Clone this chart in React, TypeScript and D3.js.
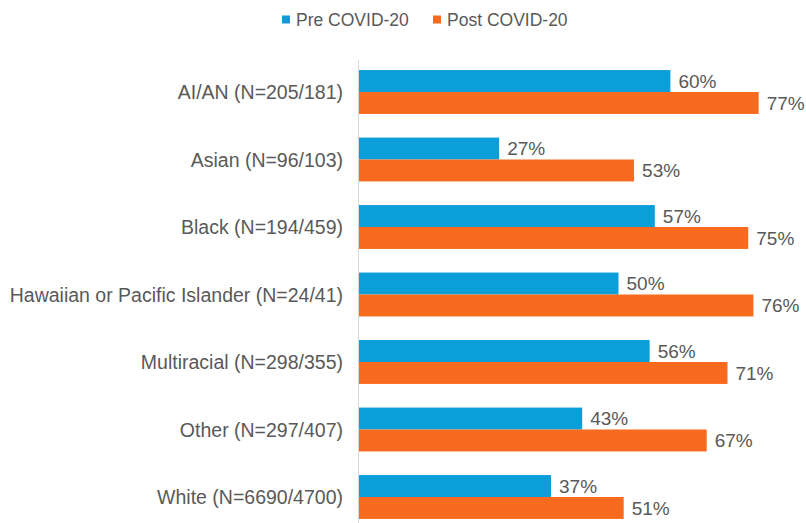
import React, { useRef, useEffect } from "react";
import * as d3 from "d3";

const categories = [
  "AI/AN (N=205/181)",
  "Asian (N=96/103)",
  "Black (N=194/459)",
  "Hawaiian or Pacific Islander (N=24/41)",
  "Multiracial (N=298/355)",
  "Other (N=297/407)",
  "White (N=6690/4700)",
];
const preValues = [60, 27, 57, 50, 56, 43, 37];
const postValues = [77, 53, 75, 76, 71, 67, 51];
const seriesNames = ["Pre COVID-20", "Post COVID-20"];
const seriesColors = ["#0B9ED8", "#F86B1E"];

const W = 806;
const H = 523;

const App = () => {
  const ref = useRef<SVGSVGElement | null>(null);

  useEffect(() => {
    if (!ref.current) return;
    const svg = d3.select(ref.current);
    svg.selectAll("*").remove();

    const font = "'Liberation Sans', Arial, sans-serif";
    const textColor = "#595959";
    const left = 359;

    const x = d3.scaleLinear().domain([0, 100]).range([left, left + 519]);
    const y = d3
      .scaleBand<string>()
      .domain(categories)
      .range([58.25, 530.75])
      .paddingInner(0.35)
      .paddingOuter(0.175);
    const inner = d3
      .scaleBand<string>()
      .domain(["pre", "post"])
      .range([0, y.bandwidth()]);

    // axis line
    svg
      .append("line")
      .attr("x1", left - 0.5)
      .attr("x2", left - 0.5)
      .attr("y1", 60)
      .attr("y2", H)
      .attr("stroke", "#D9D9D9")
      .attr("stroke-width", 1);

    const groups = categories.map((c, i) => ({
      c,
      vals: [
        { key: "pre", v: preValues[i], color: seriesColors[0] },
        { key: "post", v: postValues[i], color: seriesColors[1] },
      ],
    }));

    const g = svg
      .selectAll(".grp")
      .data(groups)
      .enter()
      .append("g")
      .attr("transform", (d) => `translate(0,${y(d.c)})`);

    g.selectAll("rect")
      .data((d) => d.vals)
      .enter()
      .append("rect")
      .attr("x", x(0))
      .attr("y", (d) => inner(d.key) || 0)
      .attr("width", (d) => x(d.v) - x(0))
      .attr("height", inner.bandwidth())
      .attr("fill", (d) => d.color);

    g.selectAll(".val")
      .data((d) => d.vals)
      .enter()
      .append("text")
      .attr("x", (d) => x(d.v) + 8)
      .attr("y", (d) => (inner(d.key) || 0) + inner.bandwidth() / 2)
      .attr("dy", "0.36em")
      .attr("font-family", font)
      .attr("font-size", 19)
      .attr("fill", textColor)
      .text((d) => `${d.v}%`);

    // category labels
    svg
      .append("g")
      .selectAll("text")
      .data(categories)
      .enter()
      .append("text")
      .attr("x", left - 16)
      .attr("y", (d) => (y(d) || 0) + y.bandwidth() / 2)
      .attr("dy", "0.36em")
      .attr("text-anchor", "end")
      .attr("font-family", font)
      .attr("font-size", 19.5)
      .attr("fill", textColor)
      .text((d) => d);

    // legend
    const legendX = [282, 433];
    const lg = svg
      .append("g")
      .selectAll("g")
      .data(seriesNames)
      .enter()
      .append("g")
      .attr("transform", (_, i) => `translate(${legendX[i]},20)`);
    lg.append("rect")
      .attr("x", 0)
      .attr("y", -4.5)
      .attr("width", 8)
      .attr("height", 8)
      .attr("fill", (_, i) => seriesColors[i]);
    lg.append("text")
      .attr("x", 14)
      .attr("y", 0)
      .attr("dy", "0.36em")
      .attr("font-family", font)
      .attr("font-size", 17.5)
      .attr("fill", textColor)
      .text((d) => d);
  }, []);

  return (
    <svg
      ref={ref}
      width={W}
      height={H}
      style={{ position: "absolute", left: 0, top: 0, background: "#fff" }}
    />
  );
};

export default App;
